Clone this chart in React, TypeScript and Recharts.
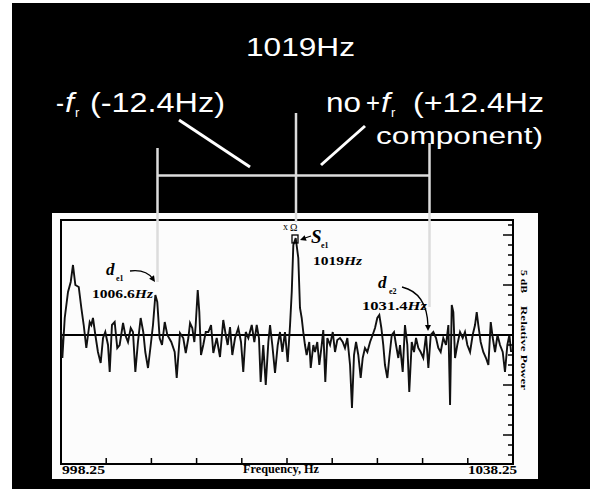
import { Line, LineChart, ReferenceArea, ReferenceLine, XAxis, YAxis } from 'recharts'

// spectrum trace: frequency (Hz) and relative power (dB)
const FREQ_HZ = [
  998.25, 998.37, 998.58, 998.87, 999.11, 999.31, 999.52, 999.82, 1000.05, 1000.26,
  1000.49, 1000.79, 1000.93, 1001.08, 1001.29, 1001.52, 1001.76, 1001.97, 1002.17, 1002.41,
  1002.56, 1002.76, 1003.0, 1003.23, 1003.44, 1003.74, 1003.94, 1004.18, 1004.42, 1004.62,
  1004.83, 1005.06, 1005.3, 1005.53, 1005.71, 1005.95, 1006.19, 1006.39, 1006.6, 1006.77,
  1006.98, 1007.19, 1007.43, 1007.66, 1008.01, 1008.31, 1008.49, 1008.78, 1009.07, 1009.29,
  1009.52, 1009.67, 1009.87, 1010.05, 1010.17, 1010.35, 1010.49, 1010.64, 1010.84, 1011.06,
  1011.29, 1011.53, 1011.73, 1012.03, 1012.32, 1012.61, 1012.83, 1013.0, 1013.21, 1013.41,
  1013.65, 1013.94, 1014.18, 1014.38, 1014.6, 1014.83, 1015.13, 1015.36, 1015.57, 1015.77,
  1015.92, 1016.15, 1016.37, 1016.6, 1016.75, 1016.95, 1017.19, 1017.43, 1017.63, 1017.84,
  1018.07, 1018.31, 1018.52, 1018.67, 1018.81, 1019.02, 1019.25, 1019.4, 1019.55, 1019.69,
  1019.84, 1019.99, 1020.22, 1020.35, 1020.58, 1020.73, 1020.93, 1021.11, 1021.32, 1021.46,
  1021.64, 1021.82, 1022.06, 1022.3, 1022.5, 1022.7, 1022.94, 1023.18, 1023.38, 1023.59,
  1023.83, 1024.0, 1024.18, 1024.36, 1024.56, 1024.77, 1024.95, 1025.15, 1025.36, 1025.6,
  1025.83, 1026.04, 1026.24, 1026.42, 1026.6, 1026.77, 1026.92, 1027.13, 1027.3, 1027.52,
  1027.72, 1027.9, 1028.1, 1028.25, 1028.49, 1028.69, 1028.9, 1029.07, 1029.29, 1029.49,
  1029.67, 1029.87, 1030.08, 1030.31, 1030.55, 1030.76, 1030.97, 1031.2, 1031.44, 1031.64,
  1031.85, 1032.08, 1032.32, 1032.53, 1032.68, 1032.83, 1032.97, 1033.12, 1033.32, 1033.56,
  1033.8, 1034.0, 1034.21, 1034.45, 1034.68, 1034.89, 1035.04, 1035.18, 1035.39, 1035.62,
  1035.86, 1036.07, 1036.28, 1036.46, 1036.66, 1036.88, 1037.1, 1037.34, 1037.54, 1037.75,
  1037.93, 1038.08,
]
const POWER_DB = [
  0.5, -2.3, 1.7, 4.3, 5.3, 7.0, 5.0, 4.8, 2.7, 1.0,
  -1.3, 1.3, 1.0, 1.7, 0, -1.7, -2.8, -0.3, 0.3, -1.0,
  -3.7, 1.0, 1.3, -1.3, -1.0, 1.2, 0, -0.7, 0.7, 0.3,
  -3.7, -0.7, 1.7, 0.3, -1.7, -3.3, -1.0, 1.0, 4.0, 3.3,
  -0.3, -1.0, 1.3, 0, -0.7, -1.7, -4.3, 0.2, -0.3, -1.8,
  -0.3, 1.2, 0.7, -0.7, 1.0, 4.5, 2.3, -2.0, -1.0, 0.3,
  0.3, 1.0, -1.8, -0.3, -2.2, 1.5, 0, -1.0, 0.8, -2.0,
  -0.3, 0.7, -0.7, -3.7, 0.3, -0.3, 1.0, -0.7, 1.0, -0.3,
  -4.7, -1.0, -5.0, -0.7, 1.0, -1.0, -3.8, -1.0, 0.3, -1.7,
  0.3, -2.7, 1.0, 4.3, 9.0, 9.7, 7.7, 2.7, 1.7, 0.3,
  -1.0, -2.0, -0.7, -3.3, -1.0, -1.7, -0.7, -3.0, -1.0, 0.5,
  -4.7, -0.3, -1.0, 0.3, -1.7, -0.5, -0.3, -0.7, -1.3, -0.3,
  -3.0, -7.3, -2.0, -0.7, -2.0, -4.3, -2.3, -1.3, -1.7, -0.7,
  0, 0.7, 1.7, 2.0, 0.7, -1.0, -3.0, -4.3, -2.3, 0,
  0.3, -1.0, -2.3, -1.0, -3.7, 1.0, -1.0, -5.7, -0.7, -1.7,
  -0.3, -1.3, -1.7, -2.3, 0, -3.3, 0, 0.3, -0.3, -1.3,
  -1.7, -0.3, -1.0, 1.0, -7.0, 3.0, 2.3, -2.3, -1.0, 0.3,
  -0.3, 0.3, -1.0, -1.7, 0, 1.0, 2.3, 1.0, -0.7, -1.7,
  -2.3, -3.0, 1.3, -0.3, -1.7, 0, -1.0, -1.7, -3.7, -1.0,
  0, -1.7,
]
const FREQ_TICKS = [
  998.25, 1002.25, 1006.25, 1010.25, 1014.25, 1018.25, 1022.25, 1026.25, 1030.25, 1034.25,
  1038.25,
]
const DB_TICKS = [-12, -11, -10, -9, -8, -7, -6, -5, -4, -3, -2, -1, 0, 1, 2, 3, 4, 5, 6, 7, 8, 9, 10, 11]
const F_MIN = 998.25
const F_MAX = 1038.25
const DB_MIN = -12.9
const DB_MAX = 11.5

const data = FREQ_HZ.map((f, i) => ({ f, db: POWER_DB[i] }))

const SERIF = '"Liberation Serif", "DejaVu Serif", serif'
const SANS = '"Liberation Sans", Arial, sans-serif'
const GUIDE = '#dcdcdc'

function FreqTick(props: any) {
  const { x, y, payload } = props
  const v = payload.value
  if (v === F_MIN) {
    return (
      <text x={x + 1} y={y + 10} fontFamily={SERIF} fontWeight="bold" fontSize={13} textLength={43} lengthAdjust="spacingAndGlyphs">
        {v.toFixed(2)}
      </text>
    )
  }
  if (v === F_MAX) {
    return (
      <text x={x - 45} y={y + 10} fontFamily={SERIF} fontWeight="bold" fontSize={13} textLength={49} lengthAdjust="spacingAndGlyphs">
        {v.toFixed(2)}
      </text>
    )
  }
  return <line x1={x} y1={y} x2={x} y2={y - 6} stroke="#000" strokeWidth={1.5} />
}

function DbTick(props: any) {
  const { x, y, payload } = props
  const major = payload.value % 5 === 0
  return <line x1={x} y1={y} x2={x - (major ? 10 : 5)} y2={y} stroke="#000" strokeWidth={1.5} />
}

function Arrowhead({ x, y, angle }: { x: number; y: number; angle: number }) {
  return <path d="M0,0 L-6,-3 L-6,3 Z" transform={`translate(${x},${y}) rotate(${angle})`} fill="#000" />
}

function Overlay() {
  return (
    <svg width={590} height={489} style={{ position: 'absolute', left: 0, top: 0, pointerEvents: 'none' }}>
      {/* slide captions */}
      <g fill="#fff" fontFamily={SANS}>
        <text x={246} y={56} fontSize={26} textLength={109} lengthAdjust="spacingAndGlyphs">1019Hz</text>
        <text x={56} y={112} fontSize={27} textLength={8} lengthAdjust="spacingAndGlyphs">-</text>
        <text x={65} y={112} fontSize={27} fontStyle="italic" textLength={9} lengthAdjust="spacingAndGlyphs">f</text>
        <text x={75} y={117} fontSize={13}>r</text>
        <text x={90} y={112} fontSize={27} textLength={135} lengthAdjust="spacingAndGlyphs">(-12.4Hz)</text>
        <text x={326} y={112} fontSize={27} textLength={35} lengthAdjust="spacingAndGlyphs">no</text>
        <text x={366} y={112} fontSize={27} textLength={14} lengthAdjust="spacingAndGlyphs">+</text>
        <text x={381} y={112} fontSize={27} fontStyle="italic" textLength={9} lengthAdjust="spacingAndGlyphs">f</text>
        <text x={391} y={117} fontSize={13}>r</text>
        <text x={413} y={112} fontSize={27} textLength={131} lengthAdjust="spacingAndGlyphs">(+12.4Hz</text>
        <text x={376} y={144} fontSize={24} textLength={167} lengthAdjust="spacingAndGlyphs">component)</text>
      </g>

      {/* bracket and pointer lines */}
      <g stroke={GUIDE} strokeWidth={2.5} fill="none">
        <line x1={157.5} y1={175.5} x2={429.5} y2={175.5} />
        <line x1={157.5} y1={148} x2={157.5} y2={282} />
        <line x1={296} y1={113} x2={296} y2={222} />
        <line x1={429.5} y1={143} x2={429.5} y2={307} />
        <line x1={179} y1={120} x2={250} y2={167} stroke="#fff" strokeWidth={3} />
        <line x1={321} y1={165} x2={365} y2={126} stroke="#fff" strokeWidth={3} />
      </g>

      {/* annotations inside the scan */}
      <g fill="#000" fontFamily={SERIF} fontWeight="bold">
        <text x={106} y={275} fontSize={17} fontStyle="italic">d</text>
        <text x={116} y={281} fontSize={8}>e1</text>
        <text x={92} y={298} fontSize={13} textLength={61} lengthAdjust="spacingAndGlyphs">
          1006.6<tspan fontStyle="italic">Hz</tspan>
        </text>

        <text x={311} y={243} fontSize={19} fontStyle="italic">S</text>
        <text x={321} y={248} fontSize={8}>e1</text>
        <text x={313} y={265} fontSize={13} textLength={49} lengthAdjust="spacingAndGlyphs">
          1019<tspan fontStyle="italic">Hz</tspan>
        </text>

        <text x={378} y={288} fontSize={17} fontStyle="italic">d</text>
        <text x={389} y={294} fontSize={8}>e2</text>
        <text x={362} y={310} fontSize={13} textLength={65} lengthAdjust="spacingAndGlyphs">
          1031.4<tspan fontStyle="italic">Hz</tspan>
        </text>

        <text x={283} y={230} fontSize={10} fontWeight="normal">x</text>
        <text x={290} y={231} fontSize={10} fontWeight="normal">Ω</text>

        {/* right axis caption */}
        <text transform="translate(521,270) rotate(90)" fontSize={8} textLength={23} lengthAdjust="spacingAndGlyphs">5 dB</text>
        <text transform="translate(521,306) rotate(90)" fontSize={8} textLength={84} lengthAdjust="spacingAndGlyphs">Relative   Power</text>

        <text x={243} y={473} fontSize={13} textLength={76} lengthAdjust="spacingAndGlyphs">Frequency, Hz</text>
      </g>
      <g stroke="#000" strokeWidth={1.3} fill="none">
        <rect x={292} y={235} width={6} height={8} />
        <path d="M130,271 Q146,269 153,279" />
        <line x1={311} y1={236} x2={302} y2={239} />
        <path d="M402,287 Q427,293 428,326" />
      </g>
      <Arrowhead x={155} y={282} angle={55} />
      <Arrowhead x={300} y={240} angle={160} />
      <Arrowhead x={428} y={331} angle={90} />
    </svg>
  )
}

export default function App() {
  return (
    <div style={{ position: 'fixed', left: 0, top: 0, width: 590, height: 489, background: '#fff', overflow: 'hidden' }}>
      <div style={{ position: 'absolute', left: 12, top: 3, width: 578, height: 486, background: '#000' }} />
      <div style={{ position: 'absolute', left: 52, top: 213, width: 486, height: 266, background: '#fcfcfc' }} />
      <div style={{ position: 'absolute', left: 0, top: 0 }}>
        <LineChart width={590} height={489} data={data} margin={{ top: 220, right: 47, bottom: 0, left: 61 }}>
          <XAxis
            dataKey="f"
            type="number"
            domain={[F_MIN, F_MAX]}
            ticks={FREQ_TICKS}
            height={25}
            tickSize={0}
            tickMargin={0}
            tickLine={false}
            tick={<FreqTick />}
            axisLine={{ stroke: '#000', strokeWidth: 2 }}
            interval={0}
          />
          <YAxis
            orientation="right"
            type="number"
            domain={[DB_MIN, DB_MAX]}
            ticks={DB_TICKS}
            width={30}
            tickSize={0}
            tickMargin={0}
            tickLine={false}
            tick={<DbTick />}
            axisLine={{ stroke: '#000', strokeWidth: 2 }}
            interval={0}
          />
          <ReferenceArea x1={F_MIN} x2={F_MAX} y1={DB_MIN} y2={DB_MAX} fill="none" stroke="#000" strokeWidth={2} />
          <ReferenceLine y={0} stroke="#000" strokeWidth={2} />
          <Line
            type="linear"
            dataKey="db"
            stroke="#111"
            strokeWidth={1.9}
            dot={false}
            isAnimationActive={false}
          />
        </LineChart>
      </div>
      <Overlay />
    </div>
  )
}
